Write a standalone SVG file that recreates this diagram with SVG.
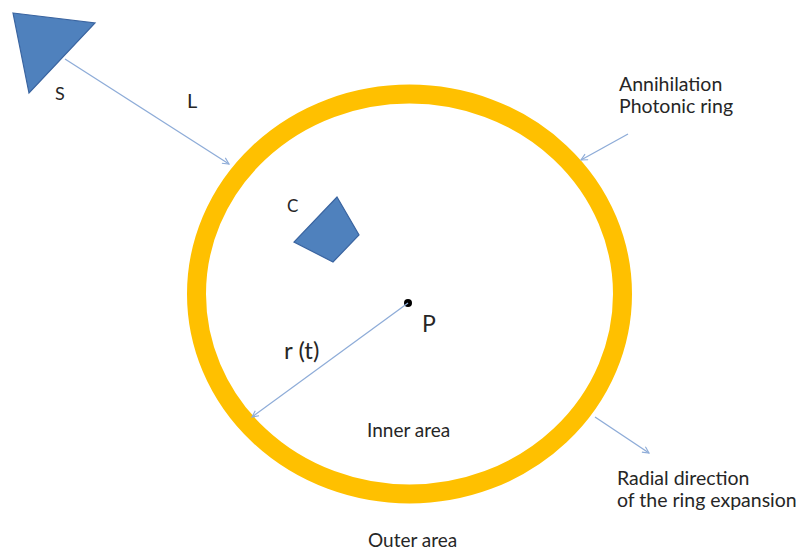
<svg xmlns="http://www.w3.org/2000/svg" width="798" height="550" viewBox="0 0 798 550">
<defs>
<marker id="arr" viewBox="0 0 10 10" refX="9" refY="5" markerWidth="8" markerHeight="8" markerUnits="userSpaceOnUse" orient="auto">
<path d="M1,1 L9,5 L1,9" fill="none" stroke="#8EACD8" stroke-width="1.4"/>
</marker>
<style>
.t{font-family:Lato,"Open Sans","Liberation Sans",sans-serif;fill:#262626}
.shape{fill:#4F81BD;stroke:#3A64A0;stroke-width:1.2}
.con{stroke:#8EACD8;stroke-width:1.3;fill:none;marker-end:url(#arr)}
</style>
</defs>
<rect width="798" height="550" fill="#fff"/>
<g id="ring">
<ellipse cx="409.5" cy="294" rx="213" ry="200" fill="none" stroke="#FFC000" stroke-width="19"/>
</g>
<g id="source">
<polygon class="shape" points="13,13 95,23 29,93"/>
<text class="t" x="55" y="100" font-size="18">S</text>
</g>
<g id="c">
<polygon class="shape" points="337,197 359,235 333,262 294,242"/>
<text class="t" x="287" y="212" font-size="17">C</text>
</g>
<g id="p">
<circle cx="408" cy="303" r="4" fill="#000"/>
<text class="t" x="422" y="332" font-size="23">P</text>
</g>
<g id="connectors">
<line class="con" x1="65" y1="59" x2="229" y2="164"/>
<line class="con" x1="408" y1="303" x2="252" y2="417"/>
<line class="con" x1="628" y1="134" x2="581" y2="160"/>
<line class="con" x1="595" y1="417" x2="649" y2="453"/>
</g>
<g id="labels">
<text class="t" x="187" y="108" font-size="20">L</text>
<text class="t" x="284" y="359" font-size="24">r (t)</text>
<text class="t" x="367" y="437" font-size="19">Inner area</text>
<text class="t" x="368" y="547" font-size="19">Outer area</text>
<text class="t" x="619" y="91" font-size="19.5">Annihilation</text>
<text class="t" x="619" y="113" font-size="19.5">Photonic ring</text>
<text class="t" x="617" y="485" font-size="19.5">Radial direction</text>
<text class="t" x="617" y="507" font-size="19.5">of the ring expansion</text>
</g>
</svg>
